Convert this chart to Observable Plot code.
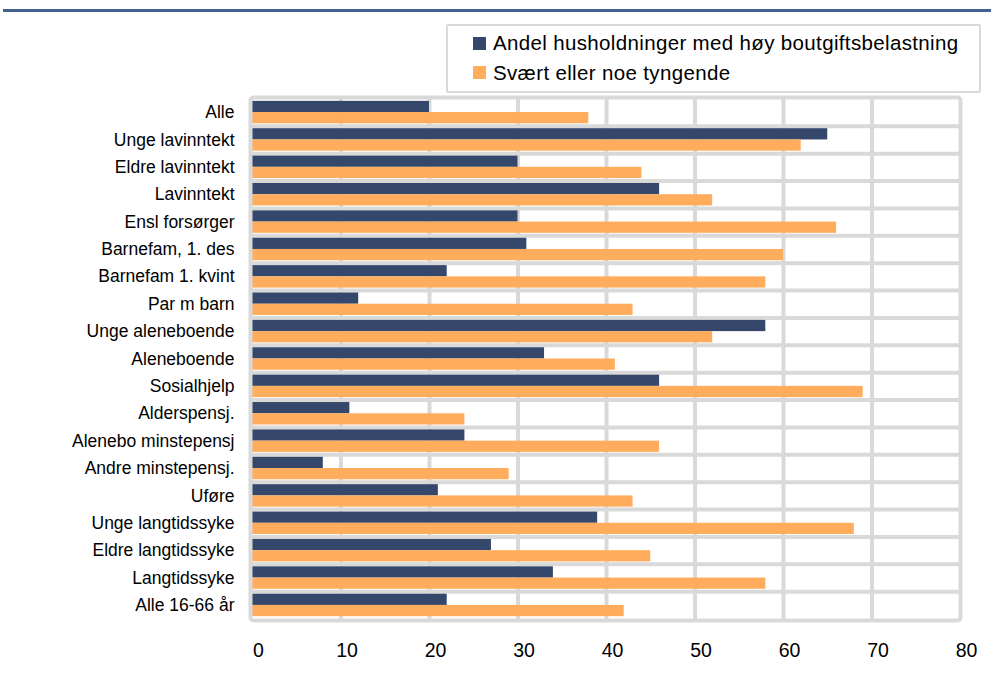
<!DOCTYPE html>
<html>
<head>
<meta charset="utf-8">
<script src="https://cdn.jsdelivr.net/npm/d3@7"></script>
<script src="https://cdn.jsdelivr.net/npm/@observablehq/plot@0.6"></script>
<style>
  html, body { margin: 0; padding: 0; background: #fff; }
  #wrap { position: relative; width: 991px; height: 678px; overflow: hidden; font-family: "Liberation Sans", Arial, sans-serif; }
  #rule { position: absolute; left: 3px; top: 9px; width: 988px; height: 3px; background: #44618f; }
  #legend { position: absolute; left: 446px; top: 24px; width: 531px; height: 65px; border: 2px solid #d9d9d9; border-radius: 2px; background: #fff; }
  .item { position: absolute; left: 25px; height: 24px; display: flex; align-items: center; font-size: 20.5px; letter-spacing: 0.35px; color: #000; white-space: nowrap; }
  .sw { width: 13px; height: 13px; margin-right: 7px; flex: none; }
  #chart { position: absolute; left: 0; top: 0; }
</style>
</head>
<body>
<div id="wrap">
  <div id="rule"></div>
  <div id="chart"></div>
  <div id="legend"></div>
</div>
<script>
const categories = [
  "Alle", "Unge lavinntekt", "Eldre lavinntekt", "Lavinntekt", "Ensl forsørger",
  "Barnefam, 1. des", "Barnefam 1. kvint", "Par m barn", "Unge aleneboende",
  "Aleneboende", "Sosialhjelp", "Alderspensj.", "Alenebo minstepensj",
  "Andre minstepensj.", "Uføre", "Unge langtidssyke", "Eldre langtidssyke",
  "Langtidssyke", "Alle 16-66 år"
];
const hoyBoutgift = [20, 65, 30, 46, 30, 31, 22, 12, 58, 33, 46, 11, 24, 8, 21, 39, 27, 34, 22];
const tyngende    = [38, 62, 44, 52, 66, 60, 58, 43, 52, 41, 69, 24, 46, 29, 43, 68, 45, 58, 42];
const seriesNames = ["Andel husholdninger med høy boutgiftsbelastning", "Svært eller noe tyngende"];
const seriesColors = ["#35486b", "#ffac5c"];
const xTicks = [0, 10, 20, 30, 40, 50, 60, 70, 80];

const rows = categories.map((c, i) => ({cat: c, a: hoyBoutgift[i], b: tyngende[i]}));

const W = 991, H = 678, mT = 97, mB = 58, mL = 252, mR = 31;
const pI = 0.18, pO = 0.14;
const step = (H - mT - mB) / (categories.length - pI + 2 * pO);
const bw = step * (1 - pI);
const grid = "#d9d9d9";

const chart = Plot.plot({
  width: W, height: H,
  marginTop: mT, marginBottom: mB, marginLeft: mL, marginRight: mR,
  style: {fontFamily: "'Liberation Sans', Arial, sans-serif", color: "#000", background: "transparent"},
  x: {domain: [0, 80]},
  y: {domain: categories, paddingInner: pI, paddingOuter: pO, round: false},
  marks: [
    Plot.ruleX(xTicks.slice(1, -1), {stroke: grid, strokeWidth: 4}),
    Plot.ruleY(categories.slice(0, -1), {y: d => d, dy: step / 2, stroke: grid, strokeWidth: 4}),
    Plot.barX(rows, {y: "cat", x: "a", fill: seriesColors[0], insetBottom: bw / 2}),
    Plot.barX(rows, {y: "cat", x: "b", fill: seriesColors[1], insetTop: bw / 2}),
    Plot.frame({stroke: grid, strokeWidth: 4, rx: 3, insetLeft: -2}),
    Plot.axisX({ticks: xTicks, tickSize: 0, tickPadding: 23, dx: 6, label: null, fontSize: 19.5}),
    Plot.axisY({tickSize: 0, tickPadding: 18, label: null, fontSize: 17.5})
  ]
});
document.getElementById("chart").appendChild(chart);

const legend = document.getElementById("legend");
seriesNames.forEach((name, i) => {
  const it = document.createElement("div");
  it.className = "item";
  it.style.top = (5 + i * 29.5) + "px";
  const sw = document.createElement("span");
  sw.className = "sw";
  sw.style.background = seriesColors[i];
  const tx = document.createElement("span");
  tx.textContent = name;
  it.appendChild(sw);
  it.appendChild(tx);
  legend.appendChild(it);
});
</script>
</body>
</html>
